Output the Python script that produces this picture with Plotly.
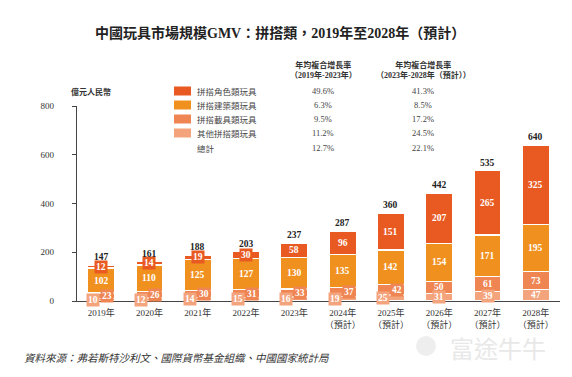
import plotly.graph_objects as go

# ---------------- data ----------------
years = ["2019年", "2020年", "2021年", "2022年", "2023年",
         "2024年<br>（預計）", "2025年<br>（預計）", "2026年<br>（預計）",
         "2027年<br>（預計）", "2028年<br>（預計）"]
other = [10, 12, 14, 15, 16, 19, 25, 31, 39, 47]
vehicle = [23, 26, 30, 31, 33, 37, 42, 50, 61, 73]
building = [102, 110, 125, 127, 130, 135, 142, 154, 171, 195]
role = [12, 14, 19, 30, 58, 96, 151, 207, 265, 325]
totals = [147, 161, 188, 203, 237, 287, 360, 442, 535, 640]

legend_names = ["拼搭角色類玩具", "拼搭建築類玩具", "拼搭載具類玩具", "其他拼搭類玩具", "總計"]
cagr_2019_2023 = ["49.6%", "6.3%", "9.5%", "11.2%", "12.7%"]
cagr_2023_2028 = ["41.3%", "8.5%", "17.2%", "24.5%", "22.1%"]
y_ticks = [0, 200, 400, 600, 800]

title_text = "中國玩具市場規模GMV：拼搭類，2019年至2028年（預計）"
unit_text = "億元人民幣"
header1 = "年均複合增長率<br>（2019年-2023年）"
header2 = "年均複合增長率<br>（2023年-2028年（預計））"
source_text = "資料來源：弗若斯特沙利文、國際貨幣基金組織、中國國家統計局"
watermark = "富途牛牛"

# ---------------- style ----------------
C_ROLE = "#E95A22"
C_BUILD = "#F0901E"
C_VEH = "#EE8552"
C_OTHER = "#F4A47C"
SERIF = "Liberation Serif, Noto Sans CJK TC, serif"
CJK = "Noto Sans CJK TC, sans-serif"

OFF = 8  # page body margin of the html page
W, H = 556, 361
L, T = 69, 98
PW, PH = 483, 195
R = W - L - PW
B = H - T - PH


def px(x):
    """reference-window pixel x -> paper x"""
    return (x - OFF - L) / PW


def py(y):
    """reference-window pixel y -> paper y"""
    return (H + OFF - B - y) / PH


fig = go.Figure()
stack = [("其他拼搭類玩具", other, C_OTHER),
         ("拼搭載具類玩具", vehicle, C_VEH),
         ("拼搭建築類玩具", building, C_BUILD),
         ("拼搭角色類玩具", role, C_ROLE)]
for name, vals, col in stack:
    fig.add_trace(go.Bar(x=years, y=vals, name=name, marker_color=col,
                         marker_line_color="white", marker_line_width=1.3,
                         hoverinfo="skip", showlegend=False))

ann = []
for i, yr in enumerate(years):
    base = 0
    small_bottom = vehicle[i] < 45
    for name, vals, col in stack:
        v = vals[i]
        center = base + v / 2
        xshift = 0
        boxed = v < 45
        if small_bottom and vals is other:
            xshift = -8
        elif small_bottom and vals is vehicle:
            xshift = 6
        a = dict(x=yr, y=center, xref="x", yref="y", text=f"<b>{v}</b>",
                 showarrow=False, xshift=xshift, xanchor="center", yanchor="middle",
                 font=dict(family=SERIF, size=9.5, color="white"))
        if boxed:
            a.update(bgcolor=col, borderpad=1)
        ann.append(a)
        base += v
    ann.append(dict(x=yr, y=totals[i], xref="x", yref="y", text=f"<b>{totals[i]}</b>",
                    showarrow=False, xanchor="center", yanchor="bottom", yshift=1,
                    font=dict(family=SERIF, size=9.5, color="#222")))


def pann(x, y, text, size, family, color, xanchor="center", yanchor="middle"):
    return dict(x=px(x), y=py(y), xref="paper", yref="paper", text=text,
                showarrow=False, xanchor=xanchor, yanchor=yanchor,
                font=dict(family=family, size=size, color=color))


ann.append(pann(280, 33, f"<b>{title_text}</b>", 14, SERIF, "#222"))
ann.append(pann(91, 91, f"<b>{unit_text}</b>", 8, CJK, "#333"))
ann.append(pann(323, 70, f"<b>{header1}</b>", 8, SERIF, "#333"))
ann.append(pann(423, 70, f"<b>{header2}</b>", 8, SERIF, "#333"))

rows_y = [91, 105, 119, 133, 147.5]
leg_cols = [C_ROLE, C_BUILD, C_VEH, C_OTHER, None]
shapes = []
for k, ry in enumerate(rows_y):
    if leg_cols[k]:
        shapes.append(dict(type="rect", xref="paper", yref="paper",
                           x0=px(174), x1=px(191), y0=py(ry + 4.5), y1=py(ry - 4.5),
                           fillcolor=leg_cols[k], line_width=0))
    ann.append(pann(195, ry, legend_names[k], 8.5, CJK, "#444", xanchor="left"))
    ann.append(pann(323, ry, cagr_2019_2023[k], 8.5, SERIF, "#444"))
    ann.append(pann(423, ry, cagr_2023_2028[k], 8.5, SERIF, "#444"))

# watermark
ann.append(pann(498, 347, watermark, 24, CJK, "#E8E8E8"))
shapes.append(dict(type="circle", xref="paper", yref="paper",
                   x0=px(416), x1=px(436), y0=py(356), y1=py(336),
                   fillcolor="#EEEEEE", line_width=0, layer="below"))
# source
ann.append(pann(22, 357, f"<i>{source_text}</i>", 10.5, CJK, "#333", xanchor="left"))

fig.update_layout(
    width=W, height=H, autosize=False,
    margin=dict(l=L, r=R, t=T, b=B, pad=0),
    paper_bgcolor="white", plot_bgcolor="white",
    barmode="stack", bargap=0.44,
    annotations=ann, shapes=shapes,
    showlegend=False,
)
fig.update_xaxes(showline=True, linecolor="#444", linewidth=1.2, ticks="",
                 showgrid=False, zeroline=False, automargin=False,
                 tickfont=dict(family=SERIF, size=9, color="#333"),
                 ticklabelstandoff=3)
fig.update_yaxes(range=[0, 800], tickvals=y_ticks, showline=True, linecolor="#444",
                 linewidth=1.2, ticks="outside", ticklen=4, tickcolor="#444",
                 showgrid=False, zeroline=False, automargin=False,
                 tickfont=dict(family=SERIF, size=9, color="#333"),
                 ticklabelstandoff=16)

fig.write_html("out.html")
